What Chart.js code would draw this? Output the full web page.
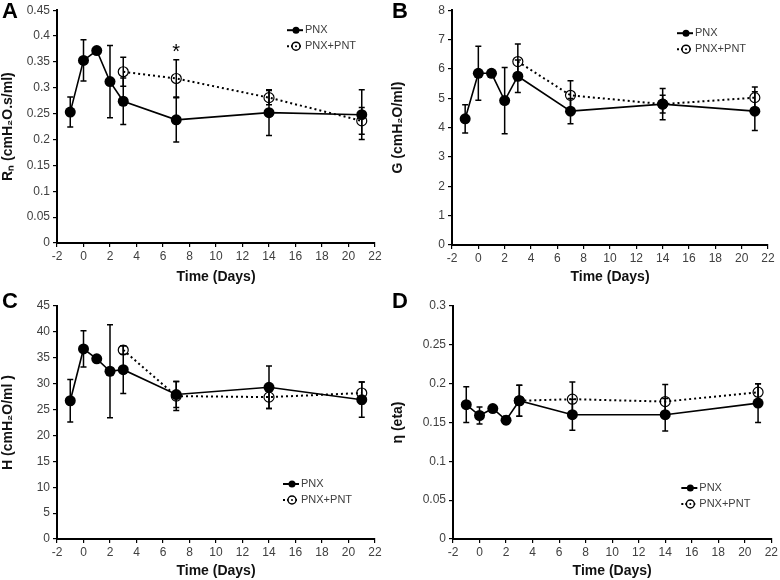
<!DOCTYPE html>
<html>
<head>
<meta charset="utf-8">
<script src="https://cdn.jsdelivr.net/npm/chart.js@4/dist/chart.umd.min.js"></script>
<style>
  html, body { margin: 0; padding: 0; background: #fff; }
  #grid { position: relative; width: 780px; height: 580px; overflow: hidden; }
  .cell { position: absolute; width: 390px; height: 290px; }
  .letter { position: absolute; left: 2px; top: -2px; font: bold 22px "Liberation Sans", Arial, sans-serif; color: #000; }
</style>
</head>
<body>
<div id="grid">
  <div class="cell" style="left:0;top:0"><canvas id="chart-a" width="390" height="290"></canvas><div class="letter">A</div></div>
  <div class="cell" style="left:390px;top:0"><canvas id="chart-b" width="390" height="290"></canvas><div class="letter">B</div></div>
  <div class="cell" style="left:0;top:290px"><canvas id="chart-c" width="390" height="290"></canvas><div class="letter">C</div></div>
  <div class="cell" style="left:390px;top:290px"><canvas id="chart-d" width="390" height="290"></canvas><div class="letter">D</div></div>
</div>
<script>
const DAYS_PNX = [-1, 0, 1, 2, 3, 7, 14, 21]
const DAYS_PNT = [3, 7, 14, 21]
const X_TICKS = [-2, 22, 2]

// A: Rn
const RN_PNX     = [0.253, 0.353, 0.372, 0.312, 0.274, 0.238, 0.252, 0.248]
const RN_PNX_ERR = [0.029, 0.040, 0,     0.070, 0.045, 0.043, 0.044, 0.048]
const RN_PNT     = [0.331, 0.318, 0.281, 0.236]
const RN_PNT_ERR = [0.028, 0.036, 0.014, 0.026]
const RN_STAR    = { x: 7, y: 0.376 }

// B: G
const G_PNX     = [4.30, 5.85, 5.85, 4.92, 5.75, 4.56, 4.80, 4.56]
const G_PNX_ERR = [0.48, 0.92, 0,    1.13, 0.55, 0.43, 0.53, 0.66]
const G_PNT     = [6.25, 5.10, 4.80, 5.02]
const G_PNT_ERR = [0.60, 0.50, 0.30, 0.36]

// C: H
const H_PNX     = [26.7, 36.7, 34.8, 32.4, 32.7, 27.9, 29.3, 26.9]
const H_PNX_ERR = [4.1,  3.5,  0,    9.0,  4.6,  2.5,  4.1,  3.4]
const H_PNT     = [36.5, 27.6, 27.4, 28.2]
const H_PNT_ERR = [0.8,  2.8,  2.2,  2.1]

// D: eta
const ETA_PNX     = [0.173, 0.159, 0.168, 0.153, 0.178, 0.160, 0.160, 0.175]
const ETA_PNX_ERR = [0.023, 0.011, 0,     0.005, 0.020, 0.020, 0.021, 0.025]
const ETA_PNT     = [0.178, 0.180, 0.177, 0.189]
const ETA_PNT_ERR = [0.020, 0.022, 0.022, 0.011]

const FONT = '"Liberation Sans", Arial, sans-serif'

function pts(xs, ys) {
  return xs.map((x, i) => ({ x, y: ys[i] }))
}

const errorBars = {
  id: 'errorBars',
  beforeDatasetsDraw(chart) {
    const { ctx, scales: { x, y } } = chart
    ctx.save()
    ctx.strokeStyle = '#000'
    ctx.lineWidth = 1.5
    chart.data.datasets.forEach(ds => {
      ds.data.forEach((p, i) => {
        const e = ds.err[i]
        if (!e) return
        const px = x.getPixelForValue(p.x)
        const y1 = y.getPixelForValue(p.y + e)
        const y2 = y.getPixelForValue(p.y - e)
        ctx.beginPath()
        ctx.moveTo(px, y1); ctx.lineTo(px, y2)
        ctx.moveTo(px - 3, y1); ctx.lineTo(px + 3, y1)
        ctx.moveTo(px - 3, y2); ctx.lineTo(px + 3, y2)
        ctx.stroke()
      })
    })
    ctx.restore()
  },
}

const inlineLegend = {
  id: 'inlineLegend',
  afterDraw(chart, args, opts) {
    const { ctx, chartArea } = chart
    const x0 = chartArea.right - opts.dx
    const y0 = opts.pos === 'top' ? chartArea.top + opts.dy : chartArea.bottom - opts.dy
    ctx.save()
    ctx.strokeStyle = '#000'
    ctx.lineWidth = 2
    // PNX
    ctx.beginPath(); ctx.moveTo(x0, y0); ctx.lineTo(x0 + 16, y0); ctx.stroke()
    ctx.fillStyle = '#000'
    ctx.beginPath(); ctx.arc(x0 + 9, y0, 3.5, 0, Math.PI * 2); ctx.fill()
    // PNX+PNT
    const y1 = y0 + 16
    ctx.setLineDash([2, 2])
    ctx.beginPath(); ctx.moveTo(x0, y1); ctx.lineTo(x0 + 16, y1); ctx.stroke()
    ctx.setLineDash([])
    ctx.lineWidth = 1.5
    ctx.fillStyle = '#fff'
    ctx.beginPath(); ctx.arc(x0 + 9, y1, 4, 0, Math.PI * 2); ctx.fill(); ctx.stroke()
    ctx.fillStyle = '#000'
    ctx.beginPath(); ctx.arc(x0 + 9, y1, 1, 0, Math.PI * 2); ctx.fill()
    ctx.fillStyle = '#404040'
    ctx.font = '11px ' + FONT
    ctx.textBaseline = 'middle'
    ctx.fillText('PNX', x0 + 18, y0)
    ctx.fillText('PNX+PNT', x0 + 18, y1)
    ctx.restore()
  },
}

const starMark = {
  id: 'starMark',
  afterDatasetsDraw(chart, args, opts) {
    if (!opts.at) return
    const { ctx, scales: { x, y } } = chart
    ctx.save()
    ctx.fillStyle = '#000'
    ctx.font = '20px ' + FONT
    ctx.textAlign = 'center'
    ctx.textBaseline = 'middle'
    ctx.fillText('*', x.getPixelForValue(opts.at.x), y.getPixelForValue(opts.at.y) + 4)
    ctx.restore()
  },
}

function panel(id, o) {
  const el = document.getElementById(id)
  new Chart(el, {
    type: 'line',
    data: {
      datasets: [
        {
          label: 'PNX',
          data: pts(DAYS_PNX, o.pnx),
          err: o.pnxErr,
          borderColor: '#000',
          backgroundColor: '#000',
          borderWidth: 1.6,
          pointRadius: 5.5,
          pointBorderWidth: 0,
          tension: 0,
        },
        {
          label: 'PNX+PNT',
          data: pts(DAYS_PNT, o.pnt),
          err: o.pntErr,
          borderColor: '#000',
          backgroundColor: 'rgba(0,0,0,0)',
          borderWidth: 2,
          borderDash: [2, 3],
          pointRadius: 5,
          pointBorderWidth: 1.2,
          tension: 0,
        },
      ],
    },
    options: {
      responsive: false,
      animation: false,
      layout: { padding: { top: o.area.top, right: 390 - o.area.right, bottom: o.padBottom, left: 0 } },
      plugins: {
        legend: { display: false },
        tooltip: { enabled: false },
        inlineLegend: o.legend,
        starMark: { at: o.star },
      },
      scales: {
        x: {
          type: 'linear',
          min: X_TICKS[0], max: X_TICKS[1],
          ticks: { stepSize: X_TICKS[2], color: '#404040', font: { family: FONT, size: 12 }, padding: 2 },
          border: { color: '#000', width: 2 },
          grid: { drawOnChartArea: false, color: '#000', tickLength: 4, lineWidth: 1.2 },
          title: { display: true, text: 'Time (Days)', color: '#111', font: { family: FONT, size: 14, weight: 'bold' }, padding: { top: 2 } },
          afterFit: s => { s.height = 290 - o.area.bottom - o.padBottom },
        },
        y: {
          min: o.y[0], max: o.y[1],
          ticks: { stepSize: o.y[2], color: '#404040', font: { family: FONT, size: 12 }, padding: 3,
                   callback: v => String(+v.toFixed(2)) },
          border: { color: '#000', width: 2 },
          grid: { drawOnChartArea: false, color: '#000', tickLength: 4, lineWidth: 1.2 },
          title: { display: true, text: o.yTitle, color: '#111', font: { family: FONT, size: 14, weight: 'bold' }, padding: { top: 0, bottom: 0 } },
          afterFit: s => { s.width = o.area.left },
        },
      },
    },
    plugins: [errorBars, inlineLegend, starMark],
  })
}

panel('chart-a', {
  yTitle: 'Rₙ (cmH₂O.s/ml)', y: [0, 0.45, 0.05],
  pnx: RN_PNX, pnxErr: RN_PNX_ERR, pnt: RN_PNT, pntErr: RN_PNT_ERR, star: RN_STAR,
  area: { left: 57, top: 10, right: 375, bottom: 243 }, padBottom: 0,
  legend: { pos: 'top', dx: 88, dy: 20 },
})
panel('chart-b', {
  yTitle: 'G (cmH₂O/ml)', y: [0, 8, 1],
  pnx: G_PNX, pnxErr: G_PNX_ERR, pnt: G_PNT, pntErr: G_PNT_ERR,
  area: { left: 62, top: 10, right: 378, bottom: 245 }, padBottom: 0,
  legend: { pos: 'top', dx: 91, dy: 23 },
})
panel('chart-c', {
  yTitle: 'H (cmH₂O/ml )', y: [0, 45, 5],
  pnx: H_PNX, pnxErr: H_PNX_ERR, pnt: H_PNT, pntErr: H_PNT_ERR,
  area: { left: 57, top: 16, right: 375, bottom: 249 }, padBottom: -4,
  legend: { pos: 'bottom', dx: 92, dy: 55 },
})
panel('chart-d', {
  yTitle: 'η (eta)', y: [0, 0.3, 0.05],
  pnx: ETA_PNX, pnxErr: ETA_PNX_ERR, pnt: ETA_PNT, pntErr: ETA_PNT_ERR,
  area: { left: 63, top: 16, right: 383, bottom: 249 }, padBottom: -4,
  legend: { pos: 'bottom', dx: 90, dy: 51 },
})
</script>
</body>
</html>
